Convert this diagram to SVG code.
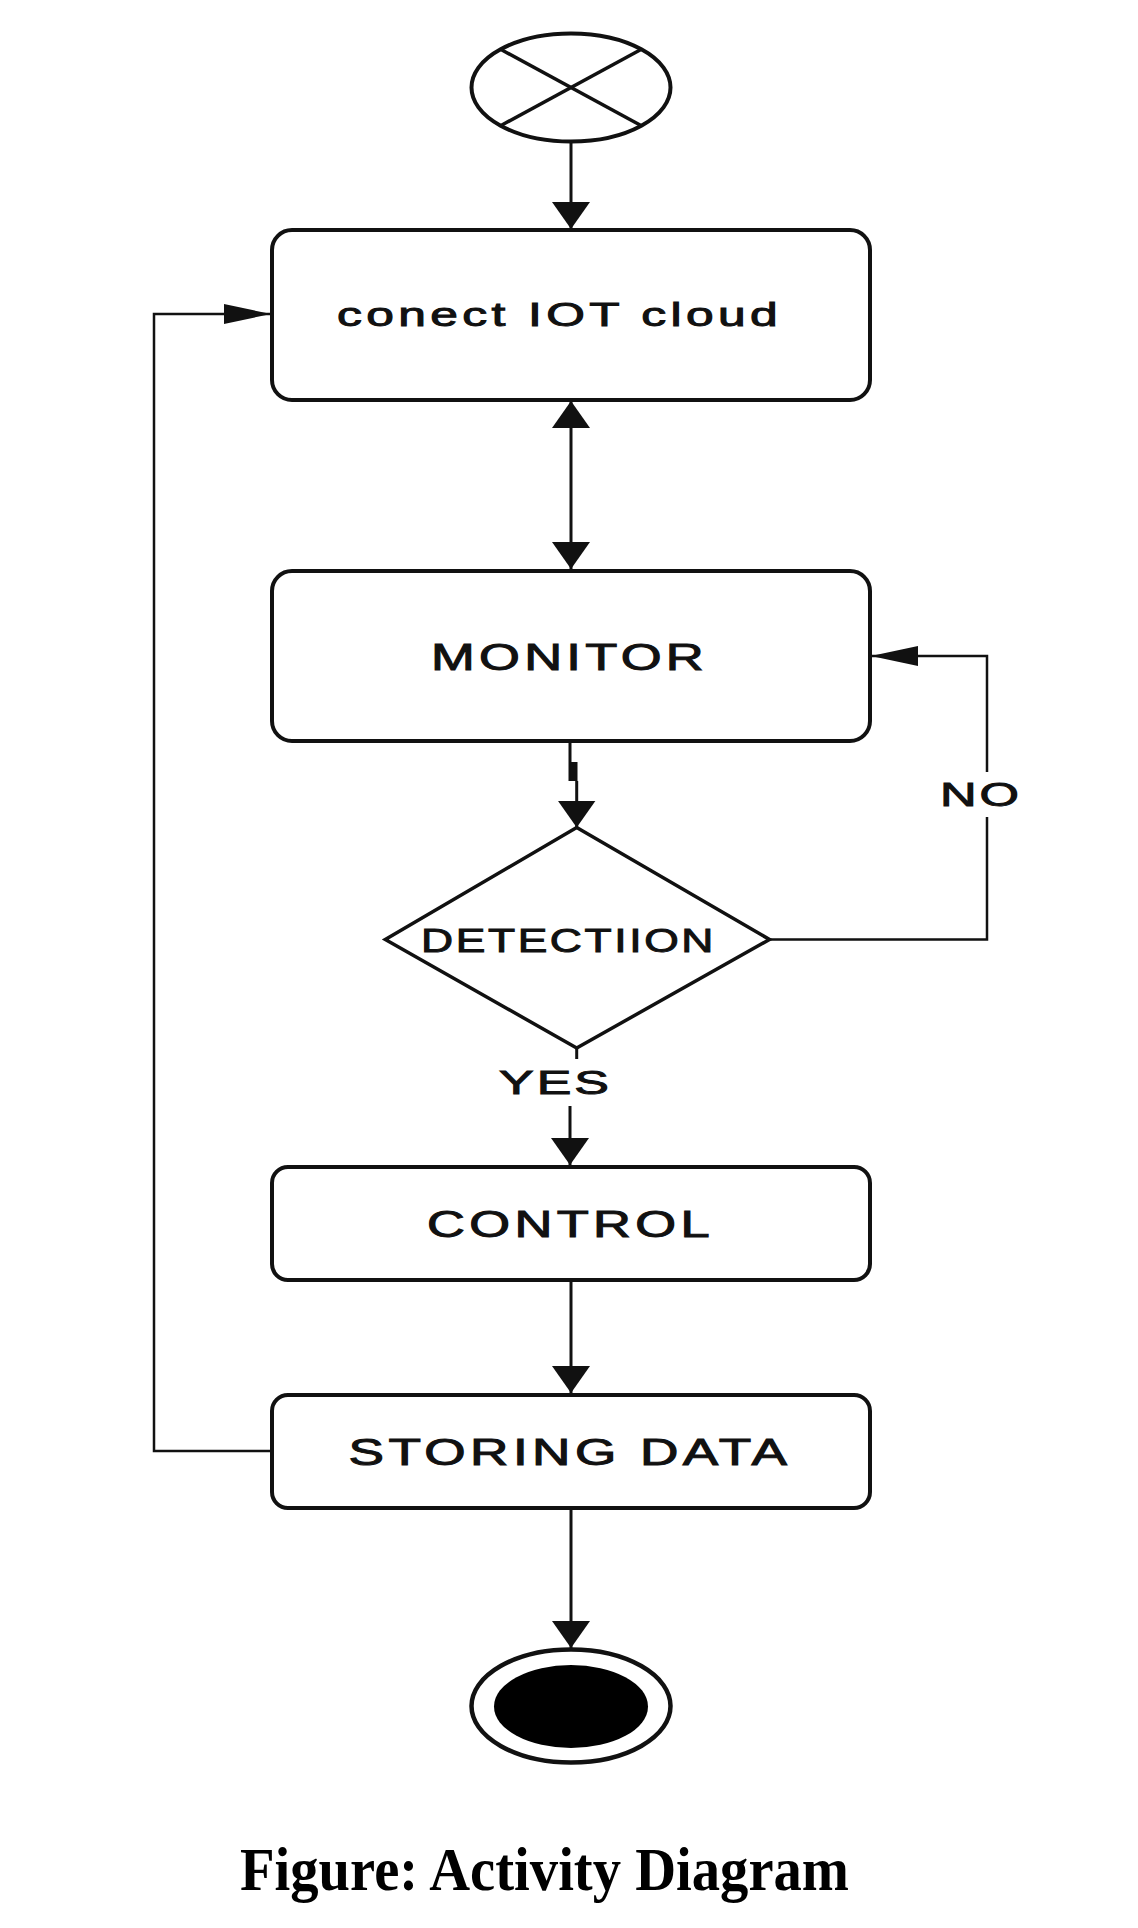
<svg xmlns="http://www.w3.org/2000/svg" width="1138" height="1928" viewBox="0 0 1138 1928">
<style>
.box{fill:#fff;stroke:#111;stroke-width:4}
.ln{fill:none;stroke:#111;stroke-width:3}
.thin{fill:none;stroke:#111;stroke-width:2.5}
.lbl{font-family:"Liberation Sans",Arial,sans-serif;font-size:36px;fill:#111;stroke:#111;stroke-width:1;letter-spacing:3px}
.cap{font-family:"Liberation Serif","Times New Roman",serif;font-weight:bold;font-size:61px;fill:#000}
</style>
<defs>
<marker id="ah" markerUnits="userSpaceOnUse" markerWidth="28" markerHeight="38" viewBox="0 0 28 38" refX="27" refY="19" orient="auto-start-reverse">
<path d="M0,0 L27,19 L0,38 Z" fill="#111"/>
</marker>
<marker id="al" markerUnits="userSpaceOnUse" markerWidth="48" markerHeight="22" viewBox="0 0 48 22" refX="47" refY="11" orient="auto">
<path d="M0,1 L47,11 L0,21 Z" fill="#111"/>
</marker>
</defs>
<rect width="1138" height="1928" fill="#fff"/>
<g id="connectors">
<path class="ln" d="M571,141.5 V229" marker-end="url(#ah)"/>
<path class="ln" d="M571,401 V569" marker-start="url(#ah)" marker-end="url(#ah)"/>
<path class="ln" d="M570,742 V781"/>
<rect x="570.5" y="762" width="7" height="19" fill="#111"/>
<path class="ln" d="M576.7,781 V827.5" marker-end="url(#ah)"/>
<path class="thin" d="M769.5,939.5 H987 V817"/>
<path class="thin" d="M987,772 V656 H871" marker-end="url(#al)"/>
<path class="ln" d="M576.7,1047 V1059"/>
<path class="ln" d="M570,1106 V1165" marker-end="url(#ah)"/>
<path class="ln" d="M571,1281 V1393" marker-end="url(#ah)"/>
<path class="thin" d="M272,1451 H154 V314 H271" marker-end="url(#al)"/>
<path class="ln" d="M571,1509 V1648" marker-end="url(#ah)"/>
</g>
<g id="start">
<ellipse cx="571" cy="87.5" rx="99.5" ry="54" fill="#fff" stroke="#111" stroke-width="4"/>
<line class="ln" x1="500.6" y1="49.3" x2="641.4" y2="125.7" style="stroke-width:3.5"/>
<line class="ln" x1="641.4" y1="49.3" x2="500.6" y2="125.7" style="stroke-width:3.5"/>
</g>
<g id="connect">
<rect class="box" x="272" y="230" width="598" height="170" rx="20"/>
<text class="lbl" x="337" y="326" textLength="445" lengthAdjust="spacingAndGlyphs" style="font-size:34px">conect IOT cloud</text>
</g>
<g id="monitor">
<rect class="box" x="272" y="571" width="598" height="170" rx="20"/>
<text class="lbl" x="431" y="670" textLength="277" lengthAdjust="spacingAndGlyphs" style="font-size:37px">MONITOR</text>
</g>
<g id="detection">
<polygon points="576.7,827.5 769.5,939.5 576.7,1048 385.3,939.5" fill="#fff" stroke="#111" stroke-width="3.5"/>
<text class="lbl" x="421" y="951.5" textLength="295" lengthAdjust="spacingAndGlyphs" style="font-size:34px;letter-spacing:2px">DETECTIION</text>
</g>
<g id="labels">
<text class="lbl" x="940" y="806" textLength="82" lengthAdjust="spacingAndGlyphs" style="font-size:34px;letter-spacing:2px">NO</text>
<text class="lbl" x="499" y="1094" textLength="113" lengthAdjust="spacingAndGlyphs" style="font-size:34px;letter-spacing:2px">YES</text>
</g>
<g id="control">
<rect class="box" x="272" y="1167" width="598" height="113" rx="16"/>
<text class="lbl" x="427" y="1237" textLength="287" lengthAdjust="spacingAndGlyphs" style="font-size:36px">CONTROL</text>
</g>
<g id="storing">
<rect class="box" x="272" y="1395" width="598" height="113" rx="16"/>
<text class="lbl" x="348.5" y="1465" textLength="443" lengthAdjust="spacingAndGlyphs" style="font-size:36px">STORING DATA</text>
</g>
<g id="end">
<ellipse cx="571" cy="1706" rx="99.5" ry="56.5" fill="#fff" stroke="#111" stroke-width="4.5"/>
<ellipse cx="571" cy="1706.5" rx="77" ry="41.5" fill="#000"/>
</g>
<text class="cap" x="240" y="1890" textLength="609" lengthAdjust="spacingAndGlyphs">Figure: Activity Diagram</text>
</svg>
